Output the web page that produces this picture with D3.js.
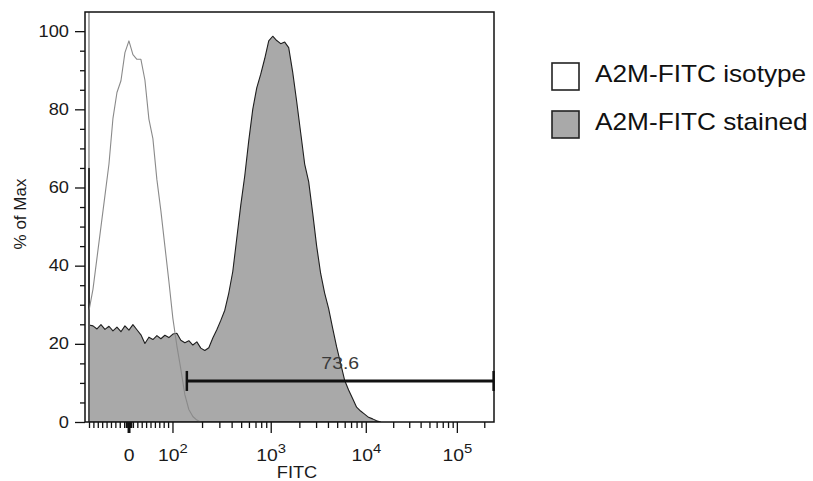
<!DOCTYPE html>
<html>
<head>
<meta charset="utf-8" />
<style>
  body { margin: 0; background: #fff; }
  svg { display: block; font-family: "Liberation Sans", Arial, sans-serif; }
</style>
</head>
<body>
<div id="chart"></div>
<script src="https://cdnjs.cloudflare.com/ajax/libs/d3/7.8.5/d3.min.js"></script>
<script>
// histogram bins on the display channel scale (0..1024), first bin at channel 10, width 10
var binStart = 10, binStep = 10;

// % of max, stained sample (grey filled)
var stainedPct = [24.8, 24.6, 23.8, 24.9, 23.7, 24.5, 23.3, 24.3, 23.1, 24.6,
  23.5, 24.9, 23.6, 22.3, 20.1, 21.7, 21.1, 22.1, 21.3, 22.2,
  21.6, 22.5, 22.7, 20.9, 20.3, 20.8, 19.7, 20.5, 18.9, 18.3,
  19.0, 21.5, 23.6, 26.0, 28.6, 33.0, 38.5, 47.0, 55.5, 63.0,
  72.0, 80.0, 85.5, 89.0, 93.0, 97.5, 98.7, 97.6, 96.8, 97.2,
  95.8, 89.5, 82.0, 74.0, 66.0, 61.5, 53.5, 45.0, 38.0, 33.0,
  29.0, 24.0, 19.2, 15.0, 10.7, 8.2, 6.0, 3.8, 2.8, 2.0,
  1.2, 0.8, 0.3, 0];

// % of max, isotype control (open line)
var isotypePct = [28.5, 34, 42, 50, 58, 66, 77.7, 84.3, 87.3, 94.5,
  97.5, 94, 92.8, 92.8, 87.5, 77.5, 72.5, 62, 54, 45,
  36, 26.5, 19.5, 13.5, 7, 3.2, 1.4, 0.5, 0];

// events piled up in the lowest channel (isotype runs off scale)
var stainedEdge = 65, isotypeEdge = 110;

// x axis: decade labels and their display channels
var xTickLabels = ["0", "10^2", "10^3", "10^4", "10^5"];
var xTickChan = [109, 219, 465, 703, 931];
var xMaxChan = 1024;

// y axis
var yMajor = [0, 20, 40, 60, 80, 100];
var yMinor = [5, 10, 15, 25, 30, 35, 45, 50, 55, 65, 70, 75, 85, 90, 95];

// gate
var gateFrom = 255, gateTo = 1023, gatePct = 10.5, gateLabel = "73.6";

var legendLabels = ["A2M-FITC isotype", "A2M-FITC stained"];
var legendFill = ["#ffffff", "#a9a9a9"];

var W = 813, H = 481;
var margin = {left: 85, top: 12, right: 319, bottom: 59};
var stretch = 1.14; // the source font is drawn wide

var svg = d3.select('#chart').append('svg')
  .attr('width', W).attr('height', H);

var x = d3.scaleLinear().domain([0, xMaxChan]).range([margin.left, W - margin.right]);
var y = d3.scaleLinear().domain([0, 104.9]).range([H - margin.bottom, margin.top]);

var stained = stainedPct.map(function(v, i) { return {c: binStart + i * binStep, v: v}; });
var isotype = isotypePct.map(function(v, i) { return {c: binStart + i * binStep, v: v}; });

svg.append('clipPath').attr('id', 'plot')
  .append('rect')
  .attr('x', x(0)).attr('y', y.range()[1])
  .attr('width', x(xMaxChan) - x(0)).attr('height', y.range()[0] - y.range()[1]);

var area = d3.area()
  .x(function(d) { return x(d.c); })
  .y0(y(0))
  .y1(function(d) { return y(d.v); });

var g = svg.append('g').attr('clip-path', 'url(#plot)');

g.append('path')
  .datum(stained)
  .attr('d', area)
  .attr('fill', '#a9a9a9')
  .attr('stroke', '#1e1e1e')
  .attr('stroke-width', 1.1)
  .attr('stroke-linejoin', 'round');

g.append('line')
  .attr('x1', x(binStart)).attr('x2', x(binStart))
  .attr('y1', y(0)).attr('y2', y(stainedEdge))
  .attr('stroke', '#111').attr('stroke-width', 2);

g.append('path')
  .datum(isotype)
  .attr('d', area)
  .attr('fill', 'none')
  .attr('stroke', '#8a8a8a')
  .attr('stroke-width', 1.1)
  .attr('stroke-linejoin', 'round');

g.append('line')
  .attr('x1', x(binStart)).attr('x2', x(binStart))
  .attr('y1', y(0)).attr('y2', y(isotypeEdge))
  .attr('stroke', '#555').attr('stroke-width', 1);

// gate
var gy = y(gatePct);
svg.append('line')
  .attr('x1', x(gateFrom)).attr('x2', x(gateTo))
  .attr('y1', gy).attr('y2', gy)
  .attr('stroke', '#111').attr('stroke-width', 3);
[gateFrom, gateTo].forEach(function(c) {
  svg.append('line')
    .attr('x1', x(c)).attr('x2', x(c))
    .attr('y1', gy - 10).attr('y2', gy + 10)
    .attr('stroke', '#111').attr('stroke-width', 2.5);
});
svg.append('text')
  .attr('transform', 'translate(' + x((gateFrom + gateTo) / 2) + ',' + (gy - 12) + ') scale(' + stretch + ',1)')
  .attr('text-anchor', 'middle')
  .attr('font-size', 17)
  .attr('fill', '#3a3a3a')
  .text(gateLabel);

// frame
svg.append('rect')
  .attr('x', x(0)).attr('y', y.range()[1])
  .attr('width', x(xMaxChan) - x(0)).attr('height', y.range()[0] - y.range()[1])
  .attr('fill', 'none').attr('stroke', '#111').attr('stroke-width', 1.5);

// y axis
var yAxisG = svg.append('g').attr('transform', 'translate(' + x(0) + ',0)');
yAxisG.call(d3.axisLeft(y).tickValues(yMinor).tickSize(5).tickFormat(''));
yAxisG.append('g').call(d3.axisLeft(y).tickValues(yMajor).tickSize(10).tickPadding(6));
yAxisG.selectAll('.domain').remove();
yAxisG.selectAll('line').attr('stroke', '#111').attr('stroke-width', 1.3);
yAxisG.selectAll('text')
  .attr('x', null)
  .attr('transform', 'translate(-16,0) scale(' + stretch + ',1)')
  .attr('font-size', 16)
  .attr('font-family', '"Liberation Sans", Arial, sans-serif')
  .attr('fill', '#1a1a1a');

// x axis minor ticks from decade channels
var xMinor = [];
var lin = (xTickChan[1] - xTickChan[0]) / 100;
[10, 20, 30, 40, 50, 60, 70, 80, 90].forEach(function(v) {
  xMinor.push(xTickChan[0] + v * lin);
  xMinor.push(xTickChan[0] - v * lin);
});
[-6, -3, 3, 6].forEach(function(v) { xMinor.push(xTickChan[0] + v * lin); });
for (var k = 1; k < xTickChan.length; k++) {
  var c0 = xTickChan[k];
  var span = k + 1 < xTickChan.length ? xTickChan[k + 1] - c0 : c0 - xTickChan[k - 1];
  for (var m = 2; m <= 9; m++) {
    var c = c0 + Math.log10(m) * span;
    if (c < xMaxChan - 2) xMinor.push(c);
  }
}

var xAxisG = svg.append('g').attr('transform', 'translate(0,' + y(0) + ')');
xAxisG.call(d3.axisBottom(x).tickValues(xMinor).tickSize(6).tickFormat(''));
xAxisG.append('g').call(d3.axisBottom(x).tickValues(xTickChan).tickSize(11)
  .tickFormat(function(d, i) { return xTickLabels[i]; }));
xAxisG.selectAll('.domain').remove();
xAxisG.selectAll('line').attr('stroke', '#111').attr('stroke-width', 1.3);
xAxisG.selectAll('.tick line').filter(function(d) { return d === xTickChan[0]; })
  .attr('stroke-width', 3);
xAxisG.selectAll('text')
  .attr('y', 39).attr('dy', 0)
  .attr('transform', 'scale(' + stretch + ',1)')
  .attr('font-size', 17)
  .attr('font-family', '"Liberation Sans", Arial, sans-serif')
  .attr('fill', '#1a1a1a')
  .each(function(d, i) {
    var t = d3.select(this), s = t.text();
    if (s.indexOf('^') < 0) return;
    var parts = s.split('^');
    t.text(null);
    t.append('tspan').text(parts[0]);
    t.append('tspan').attr('dy', -8).attr('font-size', 13).text(parts[1]);
  });

// axis titles
svg.append('text')
  .attr('transform', 'translate(297,478) scale(' + stretch + ',1)')
  .attr('text-anchor', 'middle')
  .attr('font-size', 16)
  .attr('fill', '#1a1a1a')
  .text('FITC');

svg.append('text')
  .attr('transform', 'translate(26,' + ((y.range()[0] + y.range()[1]) / 2 - 3) + ') rotate(-90)')
  .attr('text-anchor', 'middle')
  .attr('font-size', 17)
  .attr('fill', '#1a1a1a')
  .text('% of Max');

// legend
var legend = svg.append('g').attr('transform', 'translate(552,63)');
legendLabels.forEach(function(label, i) {
  var row = legend.append('g').attr('transform', 'translate(0,' + (i * 48) + ')');
  row.append('rect')
    .attr('width', 27).attr('height', 27)
    .attr('fill', legendFill[i])
    .attr('stroke', '#222').attr('stroke-width', 1.6);
  row.append('text')
    .attr('transform', 'translate(43,19) scale(' + stretch + ',1)')
    .attr('font-size', 23)
    .attr('fill', '#111')
    .text(label);
});
</script>
</body>
</html>
